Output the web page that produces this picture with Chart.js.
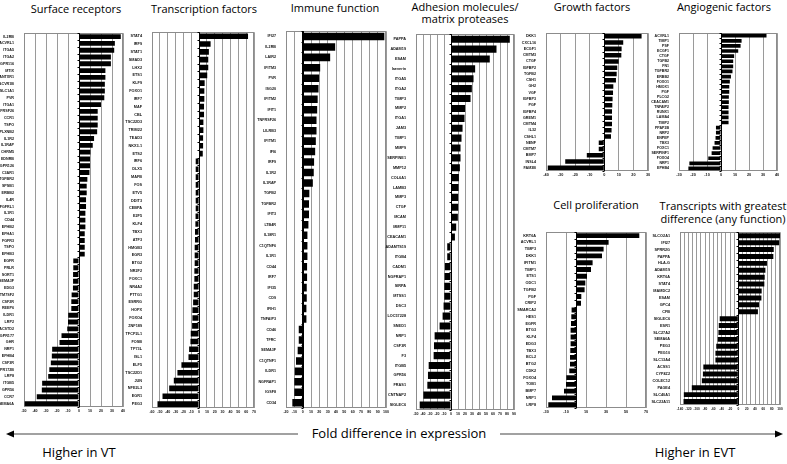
<!DOCTYPE html>
<html>
<head>
<meta charset="utf-8">
<script src="https://cdn.jsdelivr.net/npm/chart.js@4.4.1/dist/chart.umd.min.js"></script>
<style>
  body { margin:0; background:#fff; }
  #page { position:relative; width:787px; height:464px; overflow:hidden; font-family:"Open Sans", sans-serif; }
  canvas { position:absolute; }
  .ttl { position:absolute; transform:translate(-50%,-50%); white-space:nowrap; font-size:11px; color:#000; }
  .big { position:absolute; transform:translate(-50%,-50%); white-space:nowrap; font-size:13px; color:#000; }
</style>
</head>
<body>
<div id="page">
  <div class="ttl" style="left:76px;top:8px">Surface receptors</div>
  <div class="ttl" style="left:204px;top:8px">Transcription factors</div>
  <div class="ttl" style="left:335px;top:7px">Immune function</div>
  <div class="ttl" style="left:465px;top:6px">Adhesion molecules/</div>
  <div class="ttl" style="left:465px;top:18px">matrix proteases</div>
  <div class="ttl" style="left:592px;top:6px">Growth factors</div>
  <div class="ttl" style="left:724px;top:6px">Angiogenic factors</div>
  <div class="ttl" style="left:596px;top:204px">Cell proliferation</div>
  <div class="ttl" style="left:723px;top:205px">Transcripts with greatest</div>
  <div class="ttl" style="left:723px;top:218px">difference (any function)</div>
  <div class="big" style="left:399px;top:433px">Fold difference in expression</div>
  <div class="big" style="left:79px;top:452px">Higher in VT</div>
  <div class="big" style="left:695px;top:452px">Higher in EVT</div>
  <svg style="position:absolute;left:0;top:0" width="787" height="464">
    <line x1="12" y1="434" x2="298" y2="434" stroke="#444" stroke-width="1.2"/>
    <polygon points="6,434 14,430.5 14,437.5" fill="#000"/>
    <line x1="500" y1="434" x2="776" y2="434" stroke="#444" stroke-width="1.2"/>
    <polygon points="783,434 775,430.5 775,437.5" fill="#000"/>
  </svg>
</div>

<script>
// ---- data ----
var surf_labels = ['IL2RB','ACVRL1','ITGA5','ITGA2','GPR116','MTIX','ANTXR1','ACVR1B','SLC1A1','PVR','ITGA1','TNFRSF26','CCR1','TSPO','PLXNB2','IL1R2','IL1RAP','CHRM5','EDNRB','GPR126','C3AR1','TGFBR2','SPSB1','ERBB2','IL4R','FGFRL1','IL1R1','CD44','EPHB2','EPHA1','FGFR3','TSPO','EPHB3','EGFR','PRLR','SORT1','SEMA3F','EDG3','TM7SF2','CSF2R','REEP6','ILDR1','LRP2','TACSTD2','GPR177','GHR','NRP1','EPHB4','CSF3R','GPR172B','LRP8','ITGB5','GPR56','CCR7','SEMA6A'];
var surf_values = [38,32.6,32,29,29,24,24,23.5,23.5,23,20,17,17,17,16.5,13.7,12.5,10.4,10,10,9.5,7.6,7,7,6.4,6.4,5.8,5.8,5.8,5.2,5.2,5.2,5.2,-5.2,-5.2,-5.4,-5.4,-5.5,-6.7,-7,-7,-9.8,-10,-10.7,-15.9,-17.7,-24.4,-24.7,-25.6,-27,-28,-33.5,-33.8,-38.4,-49.4];

var tf_labels = ['STAT4','IRF9','STAT1','SMAD3','LHX2','ETS1','KLF9','FOXO1','IRF7','MAF','CBL','TSC22D3','TRIM22','TEAD3','NKX3-1','ETS2','IRF6','DLX5','MAFB','FOS','ETV5','DDIT3','CEBPA','E2F5','KLF4','TBX3','ATF3','HMGB3','EGR3','BTG2','NR2F2','FOXC1','NR4A2','PTTG1','ESRRG','HOPX','FOXO4','ZNF189','TFCP2L1','FOSB','TP73L','ISL1','ELF5','TSC22D1','JUN','NFE2L3','EGR1','PEG3'];
var tf_values = [62.4,14.7,12.5,11.7,11.7,10.4,7.1,6.7,6.7,6.3,6.3,5.5,5.5,5.1,5.1,4.7,-4.3,-4.3,-4.3,-4.3,-4.3,-4.3,-4.3,-4.5,-4.7,-5.2,-5.2,-5.6,-5.6,-5.6,-6,-6,-6.8,-6.8,-7.6,-8.5,-8.5,-8.9,-10.6,-11,-12.7,-13.5,-22.5,-27.6,-32.2,-38.1,-46.6,-53];

var imm_labels = ['IFI27','IL2RB','LAIR2','IFITM3','PVR','ISG20','IFITM2','IFIT1','TNFRSF26','LILRB3','IFITM1','IFI6','IRF9','IL1R2','IL1RAP','TGFB2','TGFBR2','IFIT3','LTB4R','IL18R1','C1QTNF6','IL1R1','CD44','IRF7','IFI35','CD9','IFIH1','TNFAIP3','CD46','TFRC','SEMA3F','C1QTNF1','ILDR1','NGFRAP1','IGSF8','CD34'];
var imm_values = [98,39,33,21,19.8,19,18,17.4,16.6,16.6,15.8,15,13.7,13.3,12.2,8,7.6,7.6,6.9,5.7,5.7,5.7,5.3,5.3,4.9,4.9,4.5,4.5,-4.7,-4.7,-6,-8,-9.5,-10,-10,-12.4];

var adh_labels = ['PAPPA','ADAM19','ESAM','laeverin','ITGA5','ITGA2','TIMP3','MMP2','ITGA1','JAM3','TIMP1','MMP9','SERPINE1','MMP12','COL6A1','LAMB3','MMP3','CTGF','MCAM','MMP11','CEACAM1','ADAMTS19','ITGB4','CADM1','NGFRAP1','SIRPA','MTSS1','DSC3','LOC57228','SNED1','NRP1','CSF3R','F3','ITGB5','GPR56','FRAS1','CNTNAP2','SIGLEC6'];
var adh_values = [84,65,55.4,34.5,32.2,29.8,27.9,20.2,19.3,16.5,15,13.6,13.6,12.7,11.3,10.8,10.3,10.3,9.8,7.4,5.6,-5.4,-5.4,-8.7,-9.2,-9.6,-9.6,-10.6,-12,-16.3,-23.4,-24.3,-24.8,-31.9,-32.9,-33.8,-39.5,-44.7];

var gf_labels = ['DKK1','CXCL16','ECGF1','CMTM3','CTGF','IGFBP2','TGFB2','CSH1','GH2','VGF','IGFBP3','PGF','IGFBP4','GREM1','CMTM4','IL32','CSHL1','NENF','CMTM7','BMP7','INSL4','FAM3B'];
var gf_values = [25.6,13,11.9,11.7,9.9,8.9,8.5,8,6.2,6,5.7,5.5,5.3,5.3,5.3,5,4.6,-3.8,-3.8,-12,-26.8,-38.8];

var ang_labels = ['ACVRL1','TIMP1','PSF','ECGF1','CTGF','TGFB2','FN1','TGFBR2','ERBB2','FOXO1','HMOX1','PGF','PLCG2','CEACAM1','TNFAIP2','RUNX1','LAMA4','TIMP2','PPAP2B','NRP2','ENPEP','TBX3','FOXC1','SERPINF1','FOXO4','NRP1','EPHB4'];
var ang_values = [32.5,14.7,14,12.3,9.4,8.7,8.7,8.2,7.1,6.3,5.9,5.9,5.6,5.6,5.4,5.4,5.4,5.4,-3.6,-3.6,-3.9,-4.6,-6,-6.7,-9.1,-22.6,-23.3];

var cp_labels = ['KRT6A','ACVRL1','TIMP3','DKK1','IFITM1','TIMP1','ETS1','ODC1','TGFB2','PGF','CRIP2','SMARCA2','HES1','EGFR','BTG3','KLF4','EDG3','TBX3','BCL2','BTG2','CDK2','FOXO4','TOB1','BMP7','NRP1','LRP8'];
var cp_values = [63.3,32.6,27.6,26,16.6,15,11,9.3,8.6,5.3,5,-4.4,-4.7,-5,-5.4,-5.4,-5.4,-5.7,-6,-6,-6.7,-9.7,-10,-12,-24,-27.7];

var top_labels = ['SLCO2A1','IFI27','SPRR2G','PAPPA','HLA-G','ADAM19','KRT6A','STAT4','MAMDC2','ESAM','GPC4','CFB','SIGLEC6','ESR1','SLC27A2','SEMA6A','PEG3','PEG10','SLC13A4','ACSS1','CYP4Z2','COLEC12','PAGE4','SLC40A1','SLC22A11'];
var top_values = [100,98,85,84,68.7,65,63.3,62.4,56,55.4,49.6,47,-44.7,-47,-47.8,-49.4,-53,-55,-55,-84,-85,-87.6,-111.7,-130.8,-131.5];

// ---- drawing ----
Chart.defaults.font.family = '"Liberation Sans", Arial, sans-serif';

var LW = 34, PADR = 7, XH = 10;

var frame = {
  id: 'frame',
  beforeDatasetsDraw: function(chart) {
    var a = chart.chartArea, c = chart.ctx, x = chart.scales.x;
    c.save();
    c.strokeStyle = '#8c8c8c';
    c.lineWidth = 1;
    c.strokeRect(Math.round(a.left) + 0.5, Math.round(a.top) + 0.5, Math.round(a.right - a.left) - 1, Math.round(a.bottom - a.top) - 1);
    // zero axis with small category tick marks
    var x0 = Math.round(x.getPixelForValue(0)) + 0.5;
    c.strokeStyle = '#000';
    c.beginPath();
    c.moveTo(x0, a.top); c.lineTo(x0, a.bottom);
    var n = chart.data.labels.length, h = (a.bottom - a.top) / n;
    for (var i = 0; i <= n; i++) {
      var yy = Math.round(a.top + i * h) + 0.5;
      c.moveTo(x0 - 2, yy); c.lineTo(x0, yy);
    }
    c.stroke();
    c.restore();
  }
};

function panel(rect, labels, values, min, max, step, fs, xfs, everyOther) {
  var cv = document.createElement('canvas');
  var w = LW + (rect.R - rect.L) + PADR;
  var h = (rect.B - rect.T) + 1 + XH;
  cv.width = w; cv.height = h;
  cv.style.left = (rect.L - LW) + 'px';
  cv.style.top = (rect.T - 1) + 'px';
  document.getElementById('page').appendChild(cv);

  new Chart(cv, {
    type: 'bar',
    data: {
      labels: labels,
      datasets: [{ data: values, backgroundColor: '#000', borderWidth: 0, barPercentage: 0.72, categoryPercentage: 1 }]
    },
    options: {
      indexAxis: 'y',
      responsive: false,
      animation: false,
      layout: { padding: { top: 1, right: PADR, left: 0, bottom: 0 } },
      plugins: { legend: { display: false }, tooltip: { enabled: false } },
      scales: {
        x: {
          min: min, max: max,
          ticks: {
            stepSize: step, color: '#111', padding: 2, maxRotation: 0, autoSkip: false,
            font: { size: xfs, weight: 'bold' },
            callback: function(v) { return (everyOther && v % 20 !== 0) ? '' : v; }
          },
          grid: { color: function(c) { return c.tick && c.tick.value === 0 ? '#000' : '#9a9a9a'; }, drawTicks: false },
          border: { display: false },
          afterFit: function(s) { s.height = XH; }
        },
        y: {
          ticks: { autoSkip: false, color: '#111', padding: 2, font: { size: fs, weight: 'bold' } },
          grid: { display: false },
          border: { display: false },
          afterFit: function(s) { s.width = LW; }
        }
      }
    },
    plugins: [frame]
  });
}

panel({L:24, R:123, T:30, B:407}, surf_labels, surf_values, -50, 40, 10, 3.7, 3.6);
panel({L:152, R:254, T:29, B:408}, tf_labels, tf_values, -60, 70, 10, 3.8, 3.6);
panel({L:286, R:386, T:28, B:408}, imm_labels, imm_values, -20, 100, 10, 3.7, 3.6);
panel({L:416, R:514, T:31, B:410}, adh_labels, adh_values, -50, 90, 10, 3.8, 3.6);
panel({L:546, R:648, T:30, B:171}, gf_labels, gf_values, -40, 30, 10, 3.7, 3.8);
panel({L:679, R:777, T:30, B:171}, ang_labels, ang_values, -30, 40, 10, 3.6, 3.8);
panel({L:546, R:646, T:229, B:408}, cp_labels, cp_values, -30, 70, 20, 3.8, 3.8);
panel({L:680, R:780, T:229, B:405}, top_labels, top_values, -140, 100, 10, 3.8, 3.2, true);
</script>
</body>
</html>
